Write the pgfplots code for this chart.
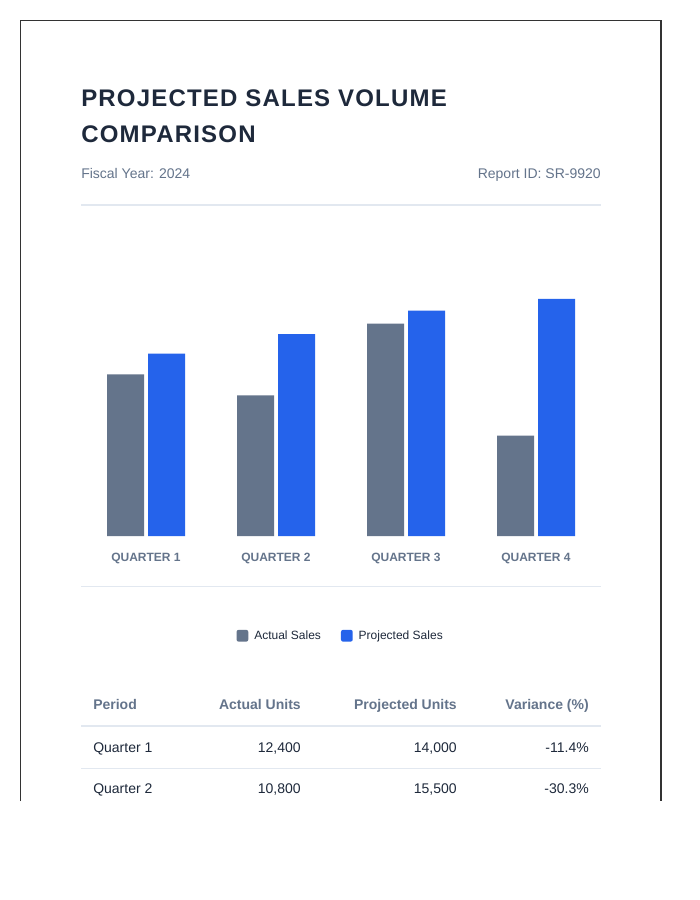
\documentclass[border=0pt]{standalone}
\usepackage{pgfplots}
\pgfplotsset{compat=1.18}
\usepackage{pgfplotstable}
\usepackage{fontspec}
\setmainfont{Liberation Sans}
\newfontfamily\titlefont[LetterSpace=5]{Liberation Sans}

\definecolor{slate}{HTML}{64748B}
\definecolor{brand}{HTML}{2563EB}
\definecolor{ink}{HTML}{1E293B}
\definecolor{rowtext}{HTML}{1E293B}
\definecolor{rule}{HTML}{E2E8F0}
\definecolor{frame}{HTML}{333333}

% Quarterly units: actual vs projected
\pgfplotstableread{
q actual projected
0 12400 14000
1 10800 15500
2 16300 17300
3 7700 18200
}\sales

\begin{document}
\begin{tikzpicture}
% page layout in pixel units (y grows downward)
\begin{scope}[x=0.75pt,y=-0.75pt]
  \fill[white] (0,0) rectangle (700,900);
  \draw[frame, line width=0.8pt] (20.5,801) -- (20.5,20.5) -- (661,20.5) -- (661,801);

  % header
  \node[anchor=base west, inner sep=0, text=ink,
        font=\titlefont\bfseries\fontsize{18}{22}\selectfont] at (81,106.7) {PROJECTED SALES VOLUME};
  \node[anchor=base west, inner sep=0, text=ink,
        font=\titlefont\bfseries\fontsize{18}{22}\selectfont] at (81,142.7) {COMPARISON};
  \node[anchor=base west, inner sep=0, text=slate, font=\fontsize{10.5}{13}\selectfont]
        at (81,178.7) {Fiscal Year: 2024};
  \node[anchor=base east, inner sep=0, text=slate, font=\fontsize{10.5}{13}\selectfont]
        at (601,178.7) {Report ID: SR-9920};
  \draw[rule, line width=1.5pt] (81,205) -- (601,205);

  % divider below the chart
  \draw[rule, line width=0.75pt] (81,586) -- (601,586);

  % summary table
  \begin{scope}[every node/.style={inner sep=0, font=\fontsize{10.5}{13}\selectfont}]
    \node[anchor=base west, text=slate, font=\bfseries\fontsize{10.5}{13}\selectfont] at (93,709.5) {Period};
    \node[anchor=base east, text=slate, font=\bfseries\fontsize{10.5}{13}\selectfont] at (301,709.5) {Actual Units};
    \node[anchor=base east, text=slate, font=\bfseries\fontsize{10.5}{13}\selectfont] at (457,709.5) {Projected Units};
    \node[anchor=base east, text=slate, font=\bfseries\fontsize{10.5}{13}\selectfont] at (589,709.5) {Variance (\%)};
    \draw[rule, line width=1.5pt] (81,726) -- (601,726);

    \node[anchor=base west, text=rowtext] at (93,752) {Quarter 1};
    \node[anchor=base east, text=rowtext] at (301,752) {12,400};
    \node[anchor=base east, text=rowtext] at (457,752) {14,000};
    \node[anchor=base east, text=rowtext] at (589,752) {-11.4\%};
    \draw[rule, line width=0.75pt] (81,768) -- (601,768);

    \node[anchor=base west, text=rowtext] at (93,793.3) {Quarter 2};
    \node[anchor=base east, text=rowtext] at (301,793.3) {10,800};
    \node[anchor=base east, text=rowtext] at (457,793.3) {15,500};
    \node[anchor=base east, text=rowtext] at (589,793.3) {-30.3\%};
  \end{scope}

  \coordinate (plotorigin) at (81,536);
\end{scope}

\begin{axis}[
  at={(plotorigin)}, anchor=south west,
  scale only axis, width=390pt, height=195.42pt,
  xmin=-0.5, xmax=3.5, ymin=0, ymax=20000,
  ybar=3pt, bar width=27.75pt,
  axis line style={draw=none},
  major tick length=0pt,
  ytick=\empty,
  xtick={0,1,2,3},
  xticklabels={QUARTER 1,QUARTER 2,QUARTER 3,QUARTER 4},
  xticklabel style={anchor=center, yshift=-16.6pt, text=slate,
                    font=\bfseries\fontsize{9}{11}\selectfont},
  legend columns=-1,
  legend style={at={(0.5,0)}, anchor=center, yshift=-74.8pt,
                draw=none, fill=none, text=ink,
                font=\fontsize{9}{11}\selectfont,
                /tikz/every odd column/.append style={column sep=2.5pt},
                /tikz/every even column/.append style={column sep=13pt}},
]
\addplot[fill=slate, draw=none,
  legend image code/.code={\fill[slate, rounded corners=1.5pt] (0pt,-4.4pt) rectangle (8.8pt,4.4pt);}]
  table[x=q, y=actual] {\sales};
\addplot[fill=brand, draw=none,
  legend image code/.code={\fill[brand, rounded corners=1.5pt] (0pt,-4.4pt) rectangle (8.8pt,4.4pt);}]
  table[x=q, y=projected] {\sales};
\legend{Actual Sales, Projected Sales}
\end{axis}
\end{tikzpicture}
\end{document}
